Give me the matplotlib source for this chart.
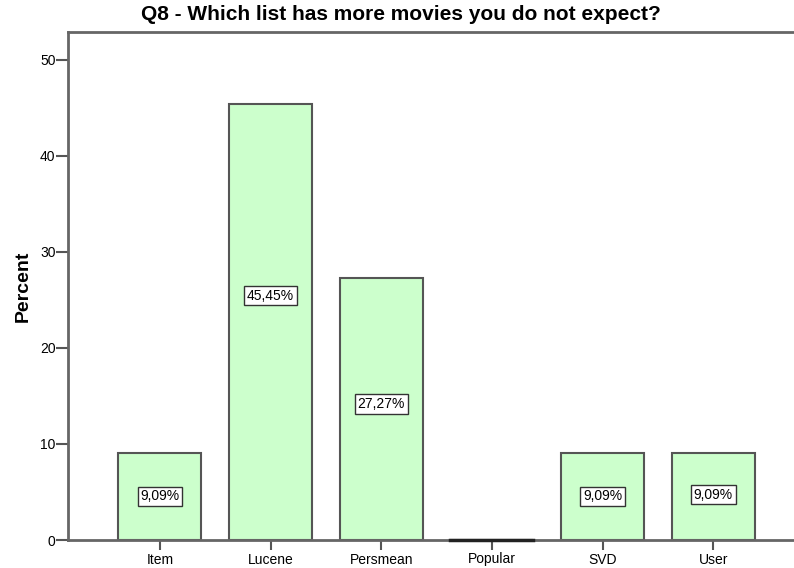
import matplotlib
matplotlib.use('Agg')
import matplotlib.pyplot as plt

plt.rcParams['font.family'] = ['Liberation Sans', 'DejaVu Sans']

# data
categories = ['Item', 'Lucene', 'Persmean', 'Popular', 'SVD', 'User']
percents = [9.09, 45.45, 27.27, 0.0, 9.09, 9.09]
labels = ['9,09%', '45,45%', '27,27%', '', '9,09%', '9,09%']

title = 'Q8 - Which list has more movies you do not expect?'

# where the labels sit, as a share of bar height
label_frac = [0.50, 0.56, 0.52, 0.5, 0.50, 0.52]

fig = plt.figure(figsize=(7.94, 5.68), dpi=100)
ax = fig.add_axes([68 / 794, 1 - 540 / 568, 1 - 68 / 794, (540 - 32) / 568])

x = list(range(len(categories)))
ax.bar(x, percents, width=0.75, color='#ccffcc', edgecolor='#555555', linewidth=1.5, zorder=2)
# zero-height bar shows as a dark line in the original
for xi, v in zip(x, percents):
    if v == 0:
        ax.plot([xi - 0.375, xi + 0.375], [0, 0], color='#222222', lw=2.5, zorder=3, clip_on=False)

for xi, v, lab, f in zip(x, percents, labels, label_frac):
    if lab:
        ax.text(xi, v * f, lab, ha='center', va='center', fontsize=10, zorder=3,
                bbox=dict(boxstyle='square,pad=0.2', fc='white', ec='#333333', lw=1))

ax.set_xlim(-0.83, 5.73)
ax.set_ylim(0, 52.9)
ax.set_xticks(x)
ax.set_xticklabels(categories, fontsize=10)
ax.set_yticks([0, 10, 20, 30, 40, 50])
ax.tick_params(axis='y', length=9, width=1.5, color='#555555', labelsize=10, pad=0)
ax.tick_params(axis='x', length=7, width=1.5, color='#555555', labelsize=10, pad=2)

for s in ['left', 'bottom', 'top']:
    ax.spines[s].set_color('#666666')
    ax.spines[s].set_linewidth(2)
ax.spines['right'].set_visible(False)

ax.set_ylabel('Percent', fontsize=14, fontweight='bold', labelpad=6)
fig.text(401 / 794, 1 - 14 / 568, title, ha='center', va='center', fontsize=15, fontweight='bold')

fig.savefig('out.png', dpi=100)
